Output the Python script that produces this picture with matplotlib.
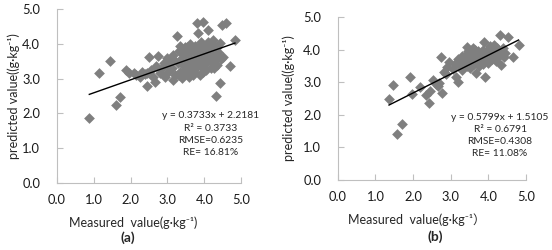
import numpy as np
import matplotlib
matplotlib.use('Agg')
import matplotlib.pyplot as plt

plt.rcParams['font.family'] = ['Lato', 'DejaVu Sans', 'Noto Sans CJK SC']

# panel (a) data
a_x = [0.88, 1.60, 1.70, 1.13, 1.43, 1.88, 1.95, 2.08, 2.15, 2.30, 2.38, 2.44, 2.51, 2.55,
       2.62, 2.66, 2.73, 2.80, 2.85, 2.93, 2.98, 3.02, 3.08, 3.12, 3.16, 3.16, 3.20, 3.25,
       3.28, 3.30, 3.34, 3.38, 3.40, 3.42, 3.45, 3.48, 3.50, 3.52, 3.55, 3.58, 3.60, 3.62,
       3.65, 3.68, 3.70, 3.72, 3.74, 3.76, 3.79, 3.80, 3.82, 3.84, 3.85, 3.88, 3.90, 3.92,
       3.95, 3.95, 3.97, 4.00, 4.02, 4.05, 4.08, 4.10, 4.11, 4.13, 4.15, 4.18, 4.20, 4.22,
       4.24, 4.26, 4.28, 4.30, 4.31, 4.33, 4.35, 4.38, 4.42, 4.42, 4.45, 4.47, 4.51, 4.60,
       4.69, 4.83, 3.35, 3.58, 3.88, 4.05, 3.15, 2.70, 2.25, 3.00,
       3.45, 3.62, 3.78, 3.95, 4.12, 4.25, 3.50, 3.70, 3.88, 4.18, 3.32, 3.65, 4.35, 2.45,
       2.90]
a_y = [1.86, 2.24, 2.46, 3.17, 3.50, 3.25, 3.15, 3.17, 3.10, 3.20, 3.12, 2.79, 3.63, 3.25,
       3.05, 2.91, 3.65, 3.15, 3.30, 3.06, 3.39, 3.20, 3.50, 3.30, 3.68, 2.96, 3.10, 4.21,
       3.45, 3.80, 3.20, 3.55, 3.02, 3.70, 3.35, 3.90, 3.15, 3.92, 3.60, 3.45, 3.75, 4.00,
       3.30, 3.85, 3.54, 3.20, 3.95, 3.65, 4.60, 3.40, 3.80, 4.31, 3.55, 3.70, 4.05, 3.35,
       4.64, 3.85, 3.20, 3.60, 3.95, 3.45, 3.75, 4.05, 4.40, 3.55, 3.90, 3.30, 3.70, 4.00,
       4.12, 3.50, 3.85, 3.62, 2.50, 3.92, 3.40, 3.75, 4.02, 2.88, 3.55, 4.55, 3.63, 4.60,
       3.35, 4.10, 3.95, 3.05, 3.10, 3.25, 3.55, 3.35, 3.05, 3.60,
       3.60, 3.50, 3.30, 3.45, 3.80, 3.30, 3.25, 3.10, 3.95, 3.50, 3.10, 3.95, 3.90, 3.15,
       3.45]
a_fit = (0.3733, 2.2181)
a_text = ['y = 0.3733x + 2.2181', 'R² = 0.3733', 'RMSE=0.6235', 'RE= 16.81%']

# panel (b) data
b_x = [1.36, 1.47, 1.58, 1.70, 1.91, 1.98, 2.18, 2.34, 2.42, 2.44, 2.53, 2.60, 2.67, 2.69,
       2.73, 2.78, 2.82, 2.88, 2.91, 2.96, 3.05, 3.10, 3.13, 3.18, 3.20, 3.25, 3.28, 3.31,
       3.35, 3.38, 3.40, 3.42, 3.44, 3.46, 3.49, 3.52, 3.55, 3.58, 3.60, 3.62, 3.64, 3.66,
       3.68, 3.70, 3.72, 3.75, 3.78, 3.80, 3.82, 3.85, 3.88, 3.90, 3.91, 3.93, 3.95, 3.98,
       4.00, 4.02, 4.05, 4.08, 4.10, 4.11, 4.14, 4.16, 4.19, 4.22, 4.25, 4.28, 4.30, 4.33,
       4.35, 4.38, 4.42, 4.45, 4.53, 4.65, 4.80, 3.50, 3.75, 4.00, 3.30, 3.60, 4.20,
       3.45, 3.70, 3.92, 4.15, 3.85, 3.57, 4.05]
b_y = [2.50, 2.90, 1.41, 1.73, 3.16, 2.63, 2.86, 2.60, 2.37, 2.73, 3.06, 2.95, 2.88, 2.98,
       3.78, 2.67, 3.32, 3.25, 3.47, 3.62, 3.40, 3.55, 3.16, 3.01, 3.72, 3.50, 3.65, 3.37,
       3.75, 3.60, 3.83, 3.50, 4.08, 3.70, 3.57, 3.90, 3.65, 3.88, 3.75, 3.55, 4.00, 3.27,
       3.85, 3.65, 3.95, 3.80, 3.60, 3.72, 3.90, 3.55, 4.23, 3.80, 3.16, 3.68, 3.95, 3.75,
       3.60, 3.93, 4.10, 3.85, 3.70, 4.08, 3.95, 3.78, 3.88, 4.05, 3.92, 3.80, 4.44, 3.52,
       3.95, 4.05, 3.78, 3.90, 4.39, 3.78, 4.15, 3.45, 3.50, 4.00, 3.80, 4.05, 3.65,
       3.95, 3.90, 3.85, 4.15, 4.00, 3.65, 3.80]
b_fit = (0.5799, 1.5105)
b_text = ['y = 0.5799x + 1.5105', 'R² = 0.6791', 'RMSE=0.4308', 'RE= 11.08%']

ticks = [0.0, 1.0, 2.0, 3.0, 4.0, 5.0]
tick_labels = ['%.1f' % t for t in ticks]
y_label = 'predicted value((g·kg⁻¹)'

fig = plt.figure(figsize=(5.52, 2.5), dpi=100)
ax_a = fig.add_axes([0.103, 0.268, 0.334, 0.696])
ax_b = fig.add_axes([0.612, 0.280, 0.341, 0.652])

# (axes, x, y, fit, stats, xlabel, tag, text centre x, first line y, line step,
#  xlabel x, xlabel y, ylabel x, tag x, tag y)
panels = [
    (ax_a, a_x, a_y, a_fit, a_text, 'Measured  value(g·kg⁻¹)', '(a)',
     4.17, 1.93, 0.35, 0.415, -0.19, -0.20, 0.386, -0.28),
    (ax_b, b_x, b_y, b_fit, b_text, 'Measured  value(g·kg⁻¹）', '(b)',
     4.31, 1.93, 0.37, 0.42, -0.205, -0.225, 0.516, -0.31),
]

for ax, xs, ys, fit, txt, xlab, tag, tx, ty, step, xlx, xly, ylx, tgx, tgy in panels:
    ax.scatter(xs, ys, marker='D', s=30, color='#7f7f7f', linewidths=0, zorder=2)
    xl = np.array([min(xs), max(xs)])
    ax.plot(xl, fit[0] * xl + fit[1], color='black', lw=1.0, zorder=3)
    ax.set_xlim(0, 5)
    ax.set_ylim(0, 5)
    ax.set_xticks(ticks)
    ax.set_xticklabels(tick_labels)
    ax.set_yticks(ticks)
    ax.set_yticklabels(tick_labels)
    for s in ['top', 'right']:
        ax.spines[s].set_visible(False)
    for s in ['left', 'bottom']:
        ax.spines[s].set_color('#bfbfbf')
        ax.spines[s].set_linewidth(0.8)
    ax.tick_params(axis='both', direction='in', length=4, width=0.8, color='#bfbfbf',
                   labelsize=9.3, labelcolor='#1a1a1a')
    ax.tick_params(axis='y', pad=12)
    ax.tick_params(axis='x', pad=8)
    ax.set_ylabel(y_label, fontsize=9, color='#262626')
    ax.set_xlabel(xlab, fontsize=9, color='#262626')
    ax.xaxis.set_label_coords(xlx, xly)
    ax.yaxis.set_label_coords(ylx, 0.5)
    for i, line in enumerate(txt):
        ax.text(tx, ty - i * step, line, ha='center', va='center',
                fontsize=7.4, color='#262626')
    ax.text(tgx, tgy, tag, transform=ax.transAxes, ha='center', va='top',
            fontsize=10, fontweight='bold', color='#262626')

fig.savefig('out.png', dpi=100)
